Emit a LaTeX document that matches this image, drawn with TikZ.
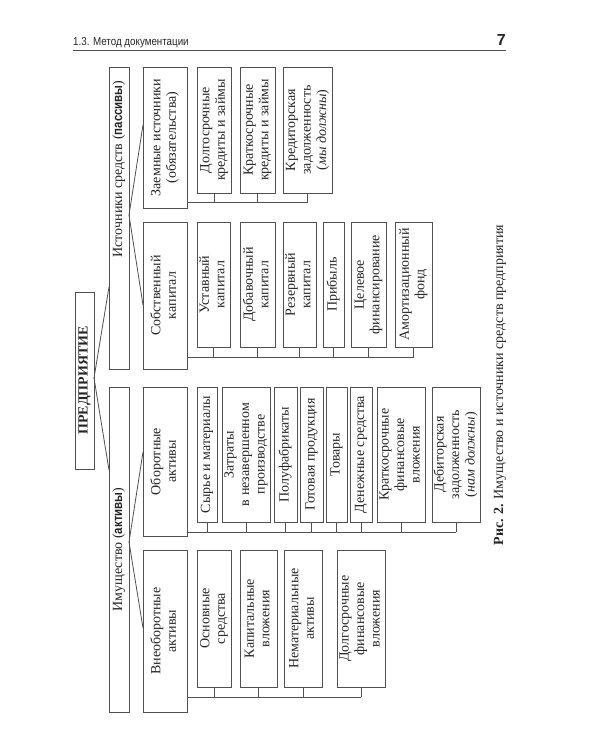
\documentclass[tikz,border=0pt]{standalone}
\usepackage{fontspec}
\setmainfont{Liberation Serif}
\setsansfont{Liberation Sans}
\newfontfamily\narrowsans[FakeStretch=0.85]{Liberation Sans}
\usetikzlibrary{calc}
\definecolor{linecol}{HTML}{505050}
\definecolor{textcol}{HTML}{262626}
\tikzset{
  box/.style={draw=linecol, line width=0.8pt, inner sep=0pt, outer sep=0pt, text=textcol,
    font=\fontsize{14}{15.5}\selectfont},
  conn/.style={draw=linecol, line width=0.8pt},
}
\newcommand{\mybox}[6]{\node[box, minimum width={(#4-#2)*1pt}, minimum height={(#5-#3)*1pt}] (#1) at ({(#2+#4)/2},{(#3+#5)/2}) {\rotatebox{90}{\begin{tabular}{@{}c@{}}#6\end{tabular}}};}
\newcommand{\bsf}[1]{{\narrowsans\bfseries\fontsize{13.5}{15}\selectfont #1}}
\begin{document}
\begin{tikzpicture}[x=1pt,y=-1pt]
\useasboundingbox (0,0) rectangle (600,750);
\fill[white] (0,0) rectangle (600,750);
% header
\node[anchor=base west, inner sep=0pt, text=textcol, font=\narrowsans\fontsize{11.5}{13}\selectfont] (hdr) at (73,45) {1.3. Метод документации};
\node[anchor=base east, inner sep=0pt, text=textcol, font=\sffamily\bfseries\fontsize{16}{18}\selectfont] (pg) at (506,45) {7};
\draw[conn] (73,50) -- (506,50);
% caption
\node[rotate=90, inner sep=0pt, text=textcol, font=\fontsize{14}{16}\selectfont] (cap) at (500,385) {\textbf{Рис. 2.} Имущество и источники средств предприятия};
% level 0, 1, 2
\mybox{pred}{75}{292}{94}{469}{\textbf{ПРЕДПРИЯТИЕ}}
\mybox{ist}{109}{67}{129}{369}{\hspace*{98pt}Источники средств (\bsf{пассивы})}
\mybox{imu}{109}{387}{129}{712}{Имущество (\bsf{активы})}
\mybox{zaem}{143}{67}{187}{208}{Заемные источники\\(обязательства)}
\mybox{sobst}{143}{222}{187}{369}{Собственный\\капитал}
\mybox{obor}{143}{387}{187}{536}{Оборотные\\активы}
\mybox{vneob}{143}{550}{187}{712}{Внеоборотные\\активы}
% leaves: borrowed
\mybox{z1}{197}{67}{231}{193}{Долгосрочные\\кредиты и займы}
\mybox{z2}{240}{67}{275}{193}{Краткосрочные\\кредиты и займы}
\mybox{z3}{283}{67}{332}{193}{Кредиторская\\задолженность\\(\textit{мы должны})}
% leaves: own capital
\mybox{s1}{197}{222}{230}{347}{Уставный\\капитал}
\mybox{s2}{240}{222}{275}{347}{Добавочный\\капитал}
\mybox{s3}{283}{222}{316}{347}{Резервный\\капитал}
\mybox{s4}{323}{222}{344}{347}{Прибыль}
\mybox{s5}{351}{222}{386}{347}{Целевое\\финансирование}
\mybox{s6}{395}{222}{432}{347}{Амортизационный\\фонд}
% leaves: current assets
\mybox{o1}{197}{387}{217}{522}{Сырье и материалы}
\mybox{o2}{222}{387}{270}{522}{Затраты\\в незавершенном\\производстве}
\mybox{o3}{274}{387}{297}{522}{Полуфабрикаты}
\mybox{o4}{300}{387}{323}{522}{Готовая продукция}
\mybox{o5}{326}{387}{347}{522}{Товары}
\mybox{o6}{350}{387}{372}{522}{Денежные средства}
\mybox{o7}{377}{387}{425}{522}{Краткосрочные\\финансовые\\вложения}
\mybox{o8}{432}{387}{480}{522}{Дебиторская\\задолженность\\(\textit{нам должны})}
% leaves: non-current assets
\mybox{v1}{197}{550}{231}{687}{Основные\\средства}
\mybox{v2}{240}{550}{277}{687}{Капитальные\\вложения}
\mybox{v3}{284}{550}{322}{687}{Нематериальные\\активы}
\mybox{v4}{337}{550}{385}{687}{Долгосрочные\\финансовые\\вложения}
% forks
\draw[conn] (pred.east |- 0,378) -- (ist.west |- 0,287);
\draw[conn] (pred.east |- 0,378) -- (imu.west |- 0,470);
\draw[conn] (ist.east |- 0,215) -- (zaem.west |- 0,125);
\draw[conn] (ist.east |- 0,215) -- (sobst.west |- 0,305);
\draw[conn] (imu.east |- 0,542) -- (obor.west |- 0,452);
\draw[conn] (imu.east |- 0,542) -- (vneob.west |- 0,628);
% rails
\draw[conn] (zaem.east |- 0,202) -- (z3.south |- 0,202);
\foreach \n in {z1,z2,z3} \draw[conn] (\n.south) -- (\n.south |- 0,202);
\draw[conn] (sobst.east |- 0,357) -- (s6.south |- 0,357);
\foreach \n in {s1,s2,s3,s4,s5,s6} \draw[conn] (\n.south) -- (\n.south |- 0,357);
\draw[conn] (obor.east |- 0,532) -- (o8.south |- 0,532);
\foreach \n in {o1,o2,o3,o4,o5,o6,o7,o8} \draw[conn] (\n.south) -- (\n.south |- 0,532);
\draw[conn] (vneob.east |- 0,697) -- (v4.south |- 0,697);
\foreach \n in {v1,v2,v3,v4} \draw[conn] (\n.south) -- (\n.south |- 0,697);
\end{tikzpicture}
\end{document}
